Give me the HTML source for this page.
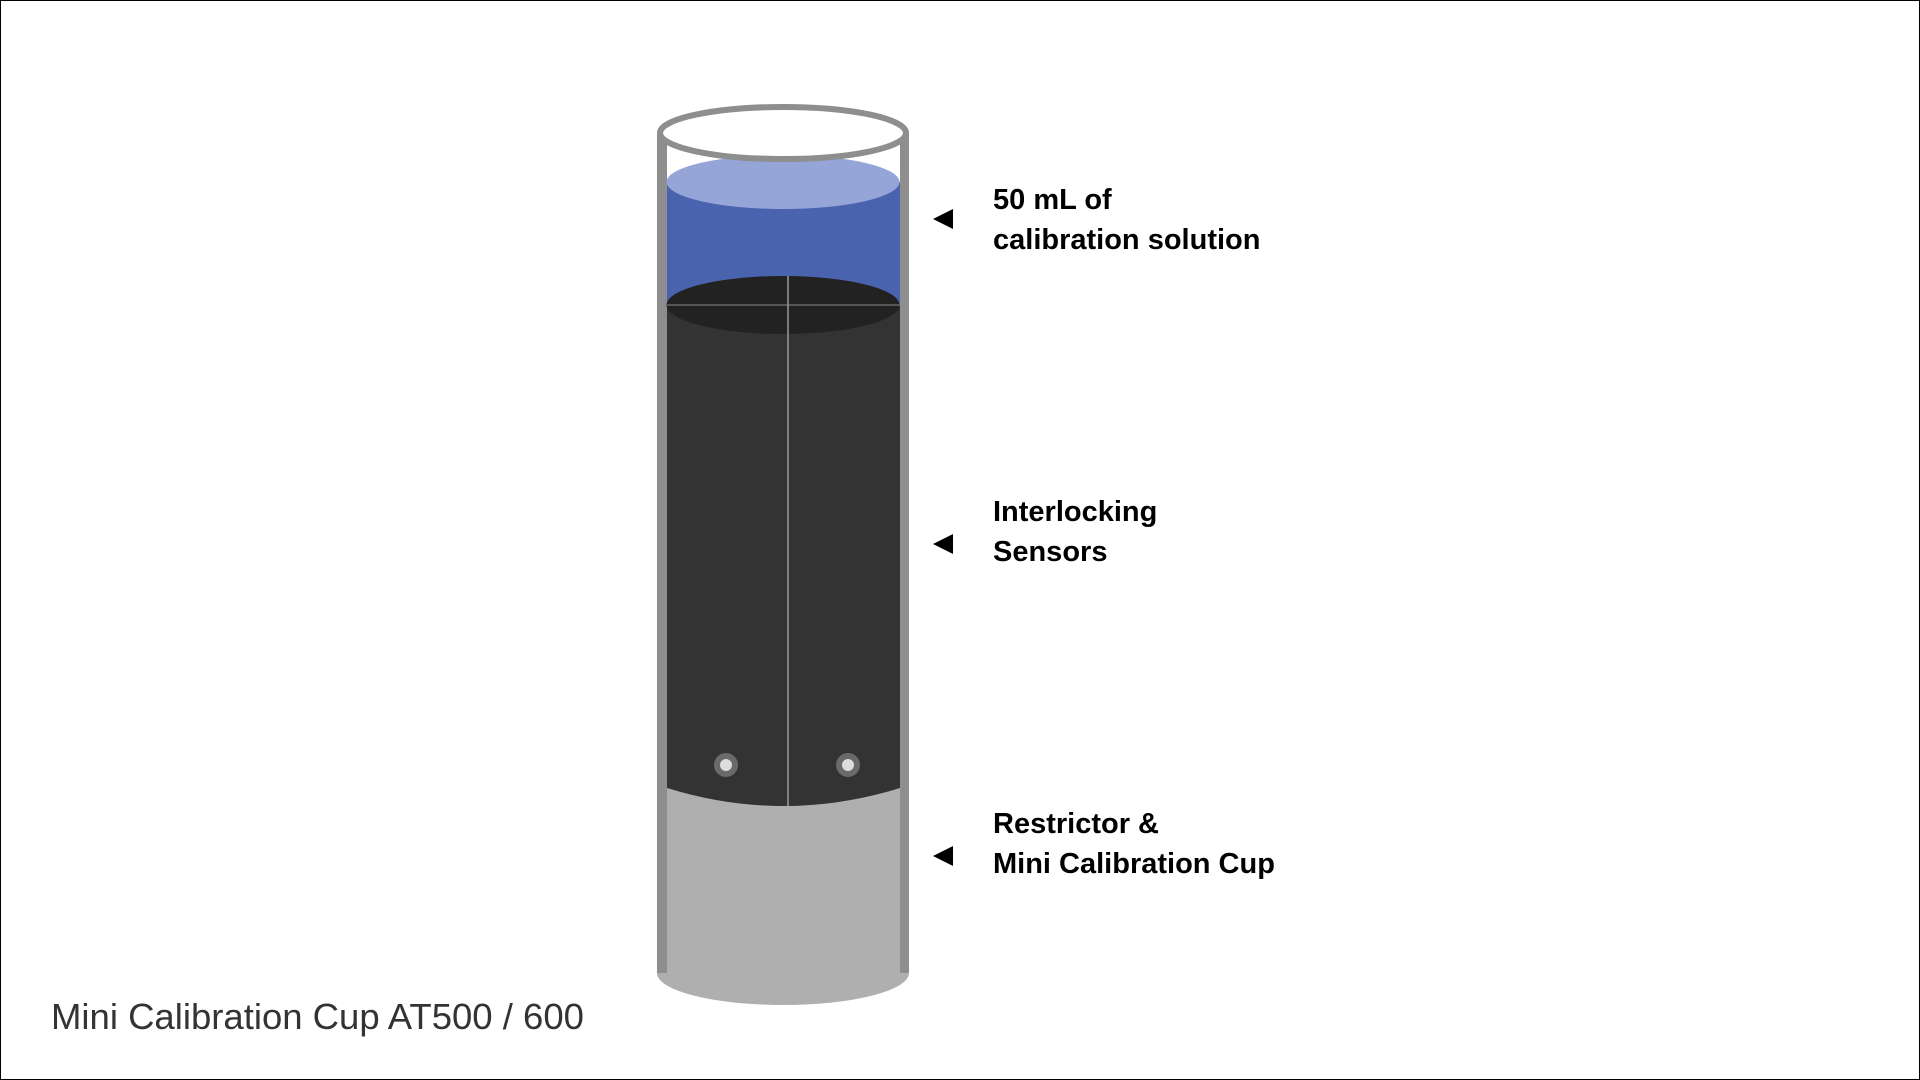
<!DOCTYPE html>
<html><head><style>
html,body{margin:0;padding:0;background:#fff}
body{width:1920px;height:1080px;position:relative;overflow:hidden;font-family:"Liberation Sans",sans-serif}
.frame{position:absolute;left:0;top:0;width:1918px;height:1078px;border:1px solid #000}
.lbl{position:absolute;left:993px;font-weight:bold;font-size:29px;line-height:40px;color:#000}
.cap{position:absolute;left:51px;top:996px;font-size:36.5px;color:#333}
</style></head><body>
<div class="frame"></div>
<svg width="1920" height="1080" style="position:absolute;left:0;top:0">
  <ellipse cx="783" cy="973" rx="126" ry="32" fill="#afafaf"/>
  <rect x="657" y="133" width="252" height="840" fill="#8e8e8e"/>
  <rect x="667" y="133" width="233" height="850" fill="#fff"/>
  <rect x="667" y="780" width="233" height="203" fill="#afafaf"/>
  <rect x="667" y="182" width="233" height="125" fill="#4a63ae"/>
  <ellipse cx="783" cy="182" rx="116.5" ry="27" fill="#95a5d8"/>
  <rect x="667" y="305" width="233" height="483" fill="#333"/>
  <path d="M667 788 Q783 824 900 788 Z" fill="#333"/>
  <ellipse cx="783" cy="305" rx="116.5" ry="29" fill="#222"/>
  <line x1="667" y1="305" x2="900" y2="305" stroke="#666" stroke-width="1.5"/>
  <line x1="788" y1="276" x2="788" y2="806" stroke="#999" stroke-width="1.5"/>
  <circle cx="726" cy="765" r="12" fill="#6a6a6a"/><circle cx="726" cy="765" r="6" fill="#ddd"/>
  <circle cx="848" cy="765" r="12" fill="#6a6a6a"/><circle cx="848" cy="765" r="6" fill="#ddd"/>
  <ellipse cx="783" cy="133" rx="123" ry="26" fill="#fff" stroke="#8e8e8e" stroke-width="6"/>
  <polygon points="933,219 953,209 953,229" fill="#000"/>
  <polygon points="933,544 953,534 953,554" fill="#000"/>
  <polygon points="933,856 953,846 953,866" fill="#000"/>
</svg>
<div class="lbl" style="top:180px">50 mL of<br>calibration solution</div>
<div class="lbl" style="top:492px">Interlocking<br>Sensors</div>
<div class="lbl" style="top:804px">Restrictor &amp;<br>Mini Calibration Cup</div>
<div class="cap">Mini Calibration Cup AT500 / 600</div>
</body></html>
